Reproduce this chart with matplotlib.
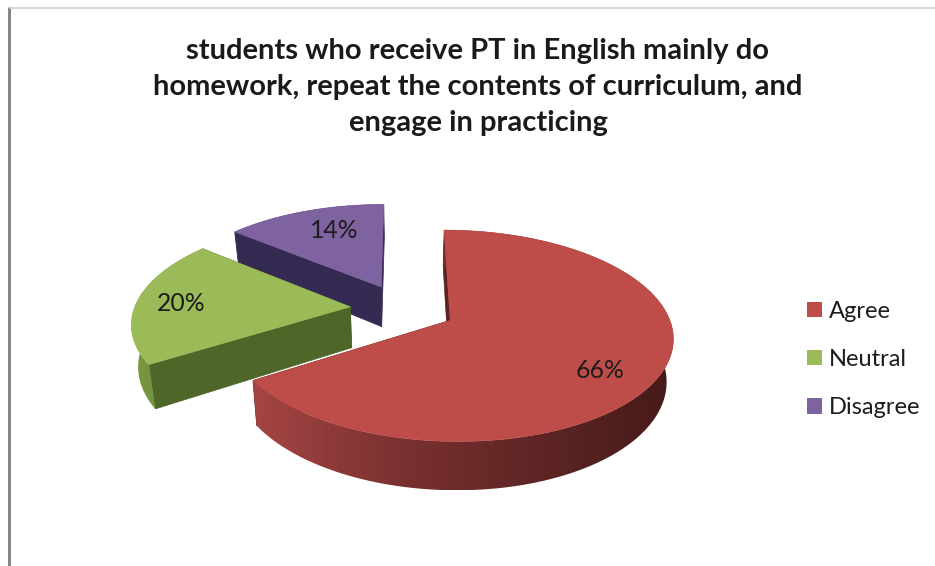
import numpy as np
import matplotlib
matplotlib.use("Agg")
import matplotlib.pyplot as plt
from matplotlib.patches import Polygon, Patch
from matplotlib.colors import LinearSegmentedColormap

plt.rcParams["font.family"] = ["Lato", "DejaVu Sans"]

# Chart content
title = ("students who receive PT in English mainly do\n"
         "homework, repeat the contents of curriculum, and\n"
         "engage in practicing")
categories = ["Agree", "Neutral", "Disagree"]
shares = [66, 20, 14]

# Colours for each slice: top face, flat cut wall
top_colors = ["#be4d4a", "#9bbb59", "#7f63a1"]
wall_colors = ["#5a2322", "#4f6629", "#352b52"]

# Label placement along each slice (fraction of radius, degrees of nudge)
label_radius = [0.77, 0.79, 0.70]
label_nudge = [7, -1, 4]

# Projection of the pie disc onto the canvas
CX, CY = 403, 308.4
RX, RY = 216, 100
PERSPECTIVE = 0.143
EXPLODE = 0.245
DEPTH = 41
BASE_SHRINK = 0.975

# Outer rim shading, left to right across each slice
rim_shades = [
    LinearSegmentedColormap.from_list(
        "rim_agree",
        [(0, "#a54444"), (0.35, "#7a3130"), (0.6, "#642827"), (1, "#451a18")]),
    LinearSegmentedColormap.from_list("rim_neutral", ["#7a9a41", "#64813a"]),
    LinearSegmentedColormap.from_list("rim_disagree", ["#352b52", "#352b52"]),
]


def project(u, v):
    w = 1 + PERSPECTIVE * v
    return CX + RX * u / w, CY - RY * v / w


def project_base(u, v):
    w = 1 + PERSPECTIVE * v
    x, y = project(u, v)
    return CX + (x - CX) * BASE_SHRINK, y + DEPTH / w


def disc_point(apex, angle_deg, r=1.0):
    a = np.radians(angle_deg)
    return apex[0] + r * np.sin(a), apex[1] + r * np.cos(a)


fig = plt.figure(figsize=(9.35, 5.66), dpi=100, facecolor="white")
ax = fig.add_axes([0, 0, 1, 1])
ax.axis("off")

# Window frame around the chart area
ax.plot([9, 9], [7, 566], color="#858585", lw=2.2, solid_capstyle="butt")
ax.plot([9, 935], [7.5, 7.5], color="#cfcfcf", lw=1.2, solid_capstyle="butt")

# Slice angles, clockwise from twelve o'clock
fractions = np.array(shares) / sum(shares)
ends = np.cumsum(fractions) * 360
starts = ends - fractions * 360

# Back slices first so nearer ones overlap them
for idx in [2, 1, 0]:
    a0, a1 = starts[idx], ends[idx]
    mid = (a0 + a1) / 2
    apex = disc_point((0, 0), mid, EXPLODE)
    angles = np.linspace(a0, a1, 240)
    arc = [disc_point(apex, a) for a in angles]
    base = idx * -3 + 7

    # Flat cut walls
    for edge in (a0, a1):
        corner = disc_point(apex, edge)
        quad = [project(*apex), project(*corner),
                project_base(*corner), project_base(*apex)]
        ax.add_patch(Polygon(quad, closed=True, fc=wall_colors[idx],
                             ec=wall_colors[idx], lw=0.5, zorder=base))

    # Curved outer rim, shaded by a horizontal gradient clipped to its outline
    outline = [project(*p) for p in arc] + [project_base(*p) for p in arc[::-1]]
    rim = Polygon(outline, closed=True, fc="none", ec="none", zorder=base + 1)
    ax.add_patch(rim)
    xs = [p[0] for p in outline]
    ys = [p[1] for p in outline]
    shade = ax.imshow(np.linspace(0, 1, 256)[None, :], cmap=rim_shades[idx],
                      extent=(min(xs), max(xs), max(ys), min(ys)),
                      aspect="auto", zorder=base + 1, interpolation="bilinear")
    shade.set_clip_path(rim)

    # Top face
    face = [project(*apex)] + [project(*p) for p in arc]
    ax.add_patch(Polygon(face, closed=True, fc=top_colors[idx],
                         ec=top_colors[idx], lw=0.4, zorder=base + 2))

    # Percentage label
    lx, ly = project(*disc_point(apex, mid + label_nudge[idx], label_radius[idx]))
    ax.text(lx, ly, f"{shares[idx]}%", ha="center", va="center",
            fontsize=17.8, color="#1c1c1c", zorder=20)

ax.set_xlim(0, 935)
ax.set_ylim(566, 0)

ax.text(478, 87, title, ha="center", va="center", fontsize=21,
        fontweight="bold", color="#1a1a1a", linespacing=1.5, zorder=20)

handles = [Patch(fc=c, ec="none") for c in top_colors]
ax.legend(handles, categories, loc="center left", bbox_to_anchor=(807, 359.5),
          bbox_transform=ax.transData, frameon=False, fontsize=17,
          handlelength=0.62, handleheight=0.62, handletextpad=0.3,
          labelspacing=1.16, borderpad=0, borderaxespad=0,
          labelcolor="#1c1c1c")

fig.savefig("out.png", dpi=100, facecolor="white")
